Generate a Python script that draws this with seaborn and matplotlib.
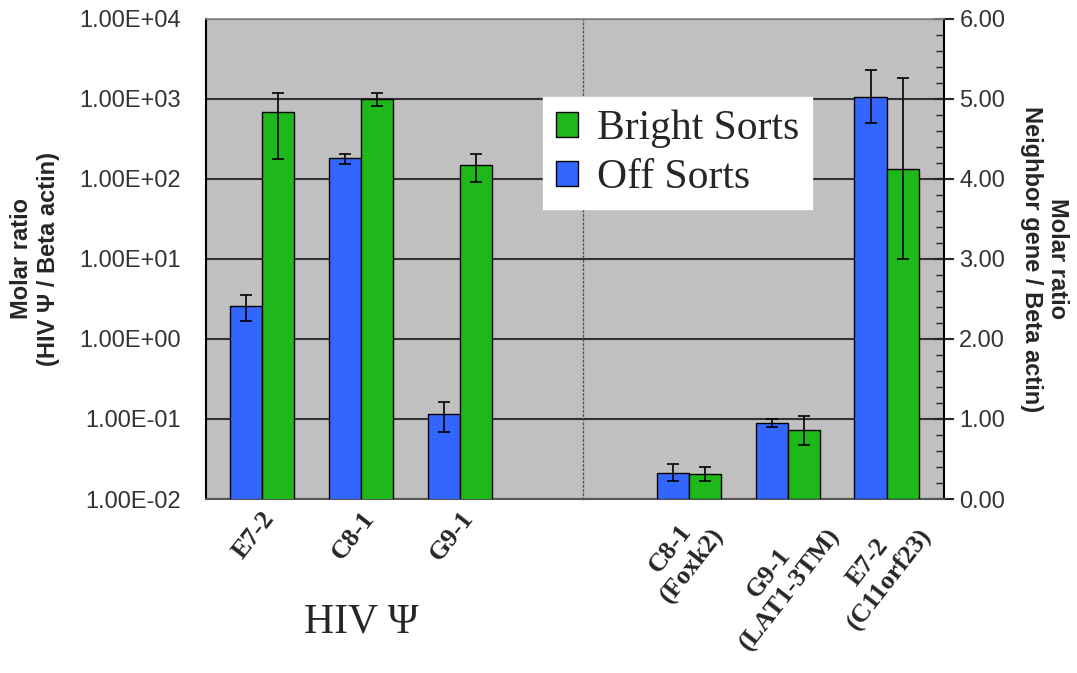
import matplotlib
matplotlib.use("Agg")
import matplotlib.pyplot as plt
from matplotlib.patches import Patch
from matplotlib.ticker import FuncFormatter, MultipleLocator, LogLocator
from matplotlib.transforms import ScaledTranslation
import seaborn as sns
import pandas as pd

# HIV Psi (left, log axis)
left_samples = ["E7-2", "C8-1", "G9-1"]
left_off = [2.6, 181, 0.115]
left_off_err = [0.9, 25, 0.046]
left_bright = [690, 1000, 148]
left_bright_err = [510, 190, 55]

# neighbor genes (right, linear axis)
right_samples = ["C8-1\n(Foxk2)", "G9-1\n(LAT1-3TM)", "E7-2\n(C11orf23)"]
right_off = [0.33, 0.95, 5.03]
right_off_err = [0.11, 0.056, 0.33]
right_bright = [0.31, 0.86, 4.13]
right_bright_err = [0.09, 0.18, 1.13]

sorts = ["Off Sorts", "Bright Sorts"]
colors = {"Off Sorts": "#3366FF", "Bright Sorts": "#1FB81A"}


def make_df(samples, off, off_err, bright, bright_err):
    return pd.DataFrame({
        "sample": samples * 2,
        "sort": ["Off Sorts"] * len(samples) + ["Bright Sorts"] * len(samples),
        "value": off + bright,
        "err": off_err + bright_err,
    })


df_left = make_df(left_samples, left_off, left_off_err, left_bright, left_bright_err)
df_right = make_df(right_samples, right_off, right_off_err, right_bright, right_bright_err)

sns.set_style("white")
plt.rcParams["font.family"] = ["Liberation Sans", "DejaVu Sans"]

W, H = 1077, 673
fig = plt.figure(figsize=(W / 100, H / 100), dpi=100)
ax1 = fig.add_axes([206 / W, (H - 499) / H, (583 - 206) / W, 480 / H])
ax2 = fig.add_axes([583 / W, (H - 499) / H, (944 - 583) / W, 480 / H])

shift = ScaledTranslation(-8 / 100, 0, fig.dpi_scale_trans)


def draw(ax, df):
    sns.barplot(data=df, x="sample", y="value", hue="sort", hue_order=sorts,
                palette=colors, saturation=1, edgecolor="black", linewidth=1,
                width=0.65, errorbar=None, legend=False, ax=ax, zorder=3)
    for cont, s in zip(ax.containers, sorts):
        errs = df[df["sort"] == s]["err"].tolist()
        xs = [b.get_x() + b.get_width() / 2 for b in cont]
        ys = [b.get_height() for b in cont]
        ax.errorbar(xs, ys, yerr=errs, fmt="none", ecolor="black",
                    elinewidth=1.2, capsize=4.5, capthick=1.2, zorder=4)
    ax.set_facecolor("#C0C0C0")
    ax.set_axisbelow(True)
    ax.grid(axis="y", which="major", color="#333333", linewidth=1.5)
    ax.set_xlabel("")
    ax.set_ylabel("")
    ax.tick_params(axis="x", length=0, pad=6)
    for lab in ax.get_xticklabels():
        lab.set_rotation(52)
        lab.set_ha("center")
        lab.set_multialignment("center")
        lab.set_fontfamily(["Liberation Serif", "DejaVu Serif"])
        lab.set_fontweight("bold")
        lab.set_fontsize(19)
        lab.set_transform(lab.get_transform() + shift)


draw(ax1, df_left)
draw(ax2, df_right)

# left log axis
ax1.set_yscale("log")
ax1.set_ylim(1e-2, 1e4)
ax1.set_xlim(-0.566, 3.24)
ax1.yaxis.set_major_locator(LogLocator(base=10, numticks=10))
ax1.yaxis.set_minor_locator(LogLocator(base=10, subs=range(2, 10), numticks=20))
ax1.yaxis.set_major_formatter(FuncFormatter(lambda v, p: "{:.2E}".format(v)))
ax1.tick_params(axis="y", which="major", direction="inout", length=14, width=1.5,
                labelsize=17, labelcolor="#333333", pad=11)
ax1.tick_params(axis="y", which="minor", direction="in", length=6, width=1)
ax1.set_ylabel("Molar ratio\n(HIV \u03a8 / Beta actin)", fontsize=17,
               fontweight="bold", labelpad=14)

# right linear axis
ax2.set_ylim(0, 6)
ax2.set_xlim(-1.07, 2.58)
ax2.yaxis.tick_right()
ax2.yaxis.set_label_position("right")
ax2.yaxis.set_major_locator(MultipleLocator(1))
ax2.yaxis.set_minor_locator(MultipleLocator(0.2))
ax2.yaxis.set_major_formatter(FuncFormatter(lambda v, p: "{:.2f}".format(v)))
ax2.tick_params(axis="y", which="major", direction="inout", length=14, width=1.5,
                labelsize=17, labelcolor="#333333", pad=4)
ax2.tick_params(axis="y", which="minor", direction="in", length=6, width=1)
ax2.set_ylabel("Molar ratio\nNeighbor gene / Beta actin)", fontsize=17,
               fontweight="bold", rotation=-90, labelpad=46)

# spines
for ax in (ax1, ax2):
    ax.spines["top"].set_color("#888888")
    ax.spines["top"].set_linewidth(1.2)
    ax.spines["bottom"].set_color("#555555")
    ax.spines["bottom"].set_linewidth(1.5)
ax1.spines["left"].set_color("black")
ax1.spines["left"].set_linewidth(1.5)
ax1.spines["right"].set_visible(False)
ax2.spines["right"].set_color("black")
ax2.spines["right"].set_linewidth(1.5)
ax2.spines["left"].set_color("#555555")
ax2.spines["left"].set_linestyle((0, (1, 2)))
ax2.spines["left"].set_linewidth(1)

ax1.text(1, -0.256, "HIV \u03a8", transform=ax1.get_xaxis_transform(),
         ha="center", va="center", fontsize=30,
         fontfamily=["Liberation Serif", "DejaVu Serif"])

handles = [Patch(facecolor=colors["Bright Sorts"], edgecolor="black", label="Bright Sorts"),
           Patch(facecolor=colors["Off Sorts"], edgecolor="black", label="Off Sorts")]
fig.legend(handles=handles, loc="upper left", bbox_to_anchor=(543 / W, 1 - 97 / H),
           frameon=True, facecolor="white", edgecolor="white", framealpha=1,
           fancybox=False, prop={"family": ["Liberation Serif"], "size": 30},
           handlelength=0.55, handleheight=0.55, handletextpad=0.45,
           borderpad=0.3, labelspacing=0.25, borderaxespad=0)

fig.savefig("out.png", dpi=100)
